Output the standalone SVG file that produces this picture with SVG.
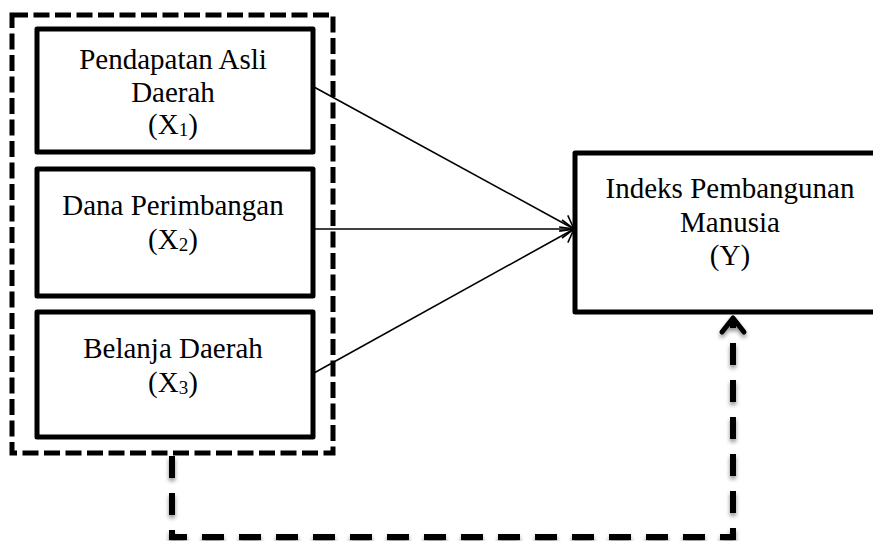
<svg xmlns="http://www.w3.org/2000/svg" width="873" height="541" viewBox="0 0 873 541">
<style>
.box{fill:#fff;stroke:#000;stroke-width:5;stroke-linejoin:round}
.t{font-family:"Liberation Serif","Times New Roman",serif;font-size:29px;fill:#000;text-anchor:middle}
.sub{font-size:19px}
.edge{stroke:#000;stroke-width:1.6;fill:none}
.dash{stroke:#000;stroke-width:5;fill:none;stroke-dasharray:16 5.5}
.dash2{stroke:#000;stroke-width:6;fill:none;stroke-dasharray:22 15}
</style>
<defs>
<marker id="arr" markerUnits="userSpaceOnUse" markerWidth="16" markerHeight="24" refX="14" refY="12" orient="auto">
<path d="M2,3 L14,12 L2,21" fill="none" stroke="#000" stroke-width="1.6"/>
</marker>
<filter id="sh" x="-20%" y="-20%" width="140%" height="140%">
<feDropShadow dx="0" dy="3" stdDeviation="2" flood-color="#000" flood-opacity="0.45"/>
</filter>
</defs>
<g id="group-x">
<rect class="dash" x="12" y="15" width="321" height="438"/>
</g>
<g id="node-x1">
<rect class="box" x="37" y="29" width="276" height="123"/>
<text class="t" x="173" y="69">Pendapatan Asli</text>
<text class="t" x="173" y="102">Daerah</text>
<text class="t" x="173" y="134">(X<tspan class="sub" dy="2">1</tspan><tspan dy="-2">)</tspan></text>
</g>
<g id="node-x2">
<rect class="box" x="37" y="169" width="276" height="127"/>
<text class="t" x="173" y="215">Dana Perimbangan</text>
<text class="t" x="173" y="249">(X<tspan class="sub" dy="2">2</tspan><tspan dy="-2">)</tspan></text>
</g>
<g id="node-x3">
<rect class="box" x="37" y="312" width="276" height="125"/>
<text class="t" x="173" y="358">Belanja Daerah</text>
<text class="t" x="173" y="392">(X<tspan class="sub" dy="2">3</tspan><tspan dy="-2">)</tspan></text>
</g>
<g id="node-y">
<rect class="box" x="575" y="153" width="330" height="159"/>
<text class="t" x="730" y="198">Indeks Pembangunan</text>
<text class="t" x="730" y="232">Manusia</text>
<text class="t" x="730" y="265">(Y)</text>
</g>
<g id="connectors">
<line class="edge" x1="314" y1="87" x2="574" y2="229" marker-end="url(#arr)"/>
<line class="edge" x1="314" y1="229" x2="574" y2="229" marker-end="url(#arr)"/>
<line class="edge" x1="314" y1="373" x2="574" y2="229" marker-end="url(#arr)"/>
<g filter="url(#sh)">
<path class="dash2" d="M172,456 L172,537 L733,537 L733,322"/>
<path d="M722,332 L733,318 L744,332" fill="none" stroke="#000" stroke-width="5" stroke-linejoin="round" stroke-linecap="round"/>
</g>
</g>
</svg>
